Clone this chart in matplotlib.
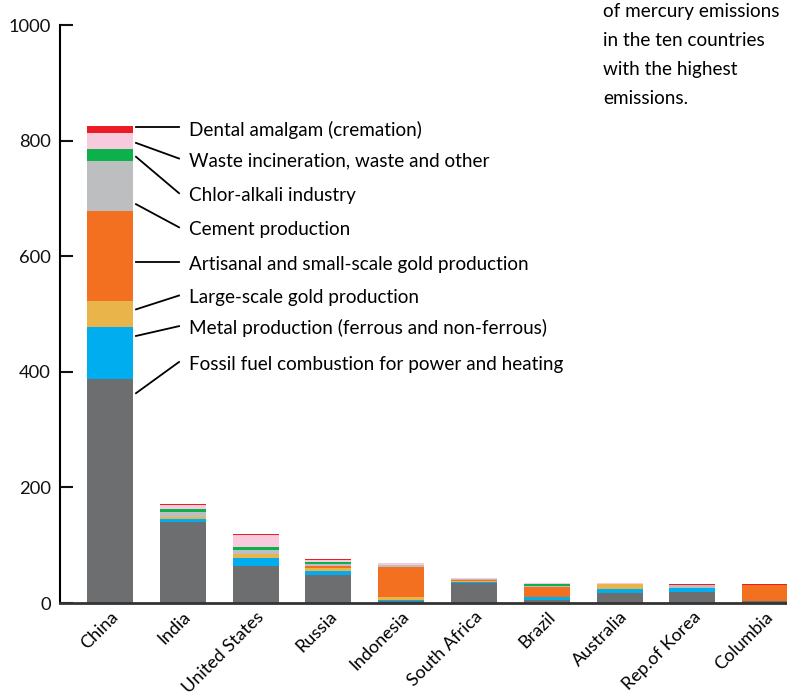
import matplotlib.pyplot as plt
import numpy as np

plt.rcParams['font.family'] = ['Lato', 'DejaVu Sans']

countries = ['China', 'India', 'United States', 'Russia', 'Indonesia',
             'South Africa', 'Brazil', 'Australia', 'Rep.of Korea', 'Columbia']

sources = ['Fossil fuel combustion for power and heating',
           'Metal production (ferrous and non-ferrous)',
           'Large-scale gold production',
           'Artisanal and small-scale gold production',
           'Cement production',
           'Chlor-alkali industry',
           'Waste incineration, waste and other',
           'Dental amalgam (cremation)']

# emissions per source (tonnes), bottom to top of the stack
fossil   = [388, 140, 64, 48, 3, 35, 6, 17, 19, 3]
metal    = [89, 6, 14, 7, 3, 1.5, 5, 7, 7, 0]
large    = [45, 2, 6, 5, 5, 1.5, 0, 9, 0, 0]
asgm     = [156, 0, 0, 3.5, 52, 1, 17, 0, 0, 28]
cement   = [86, 10, 7.5, 3.5, 3, 3, 2, 0, 5, 0]
chlor    = [22, 5, 5, 3.5, 0, 0, 3.5, 0, 0, 0]
waste    = [28, 7, 21, 3.5, 4, 2, 1.5, 1.5, 0, 0]
dental   = [12, 2, 2, 1.5, 0, 0, 0, 0, 1.5, 1.5]

colors = ['#6d6e70', '#00aeef', '#e9b54b', '#f37021',
          '#bcbec0', '#0db14b', '#f7cbdd', '#ed1c24']

series = [fossil, metal, large, asgm, cement, chlor, waste, dental]

fig = plt.figure(figsize=(7.87, 6.95), dpi=100)
ax = fig.add_axes([60/787, 1 - 603/695, 1 - 60/787, (603 - 25)/695])

x = np.arange(len(countries))
bottom = np.zeros(len(countries))
for vals, col in zip(series, colors):
    ax.bar(x, vals, width=0.63, bottom=bottom, color=col, linewidth=0)
    bottom += np.array(vals)

ax.set_xlim(-0.687, 9.3)
ax.set_ylim(0, 1000)
ax.set_yticks([0, 200, 400, 600, 800, 1000])
ax.tick_params(axis='y', direction='in', length=9, width=1.5, pad=6.5,
               labelsize=13.2, colors='#111111')
ax.set_xticks(x)
ax.set_xticklabels(countries, rotation=45, ha='right', rotation_mode='anchor',
                   fontsize=13)
ax.tick_params(axis='x', length=0, pad=4)
for s in ['top', 'right']:
    ax.spines[s].set_visible(False)
ax.spines['left'].set_linewidth(1.5)
ax.spines['bottom'].set_linewidth(2)
ax.spines['bottom'].set_color('#333333')

# labels for the China stack
line_start = [363, 462, 508, 590, 690, 772, 796, 823]
line_end = [417, 479, 532, 590, 650, 709, 769, 823]
for name, y0, y1 in zip(sources, line_start, line_end):
    ax.plot([0.357, 0.948], [y0, y1], color='black', lw=1.3, clip_on=False)
    ax.text(1.085, y1 - 4, name, fontsize=13.6, va='center', ha='left')

fig.text(603/787, 1 - 3/695,
         'of mercury emissions\nin the ten countries\nwith the highest\nemissions.',
         fontsize=13.6, va='top', ha='left', linespacing=1.85)

fig.savefig('out.png', dpi=100)
